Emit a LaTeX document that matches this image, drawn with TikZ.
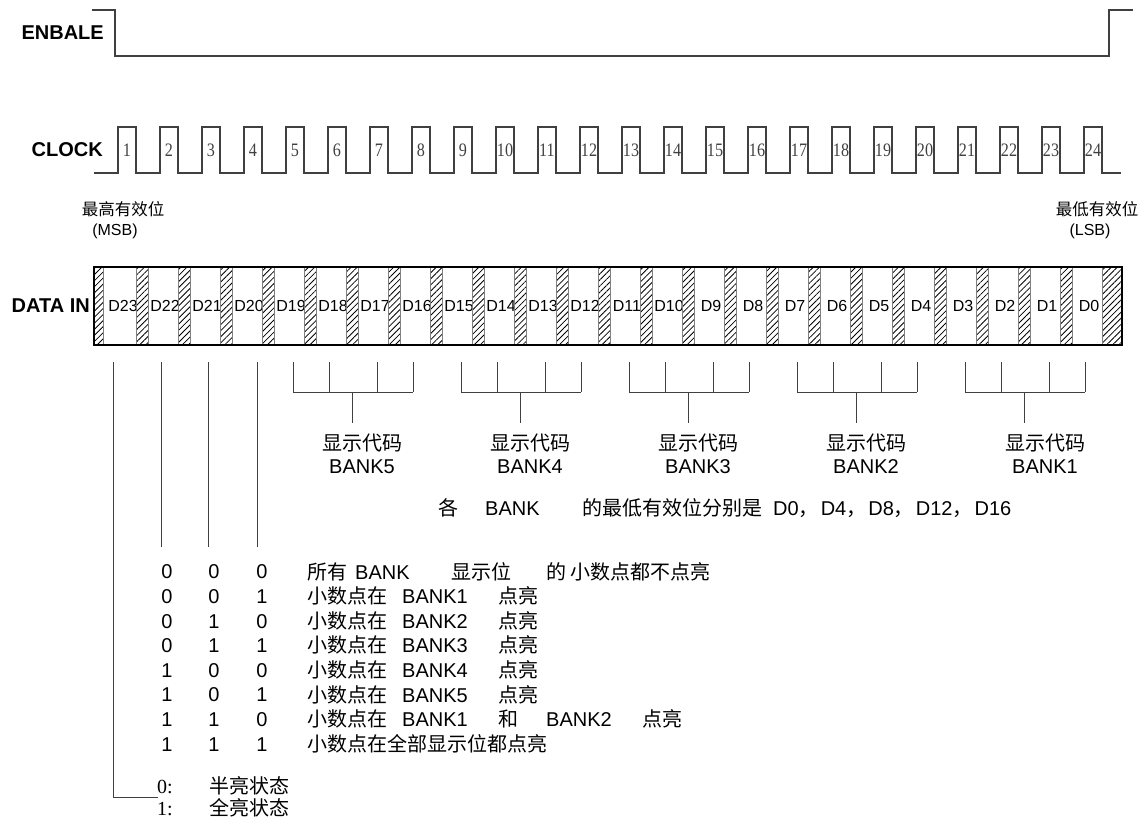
\documentclass[tikz,border=0pt]{standalone}
\usepackage{fontspec}
\setmainfont{Liberation Sans}
\newfontfamily\cjk{Noto Sans CJK SC}
\newfontfamily\songdigits{Liberation Serif}
\usetikzlibrary{patterns.meta}
\definecolor{wire}{RGB}{64,64,64}
\definecolor{stripgray}{RGB}{128,128,128}
\newcommand{\fsz}[1]{\fontsize{#1}{#1}\selectfont}
\newcommand{\cell}[2]{\makebox[#1pt][l]{#2}}
\newcommand{\zh}[1]{{\cjk #1}}

\begin{document}
\begin{tikzpicture}[x=1pt, y=-1pt, inner sep=0pt,
    sig/.style={draw=wire, line width=1.2pt},
    lead/.style={draw=wire, line width=1pt},
    siglabel/.style={font=\fsz{20}\bfseries, anchor=east},
    clknum/.style={font=\songdigits\fsz{19}, text=black!75, xscale=0.85},
    bitname/.style={font=\fsz{16}},
    hatchbar/.style={draw=stripgray, line width=0.8pt, preaction={fill=white},
        pattern={Lines[angle=45, distance=4.3pt, line width=0.8pt]}},
    note/.style={font=\fsz{20}, anchor=base west}]
\useasboundingbox (0,0) rectangle (1142,819);

% signal names
\node[siglabel] (enable) at (104,33) {ENBALE};
\node[siglabel] (clock) at (103,150) {CLOCK};
\node[siglabel] (datain) at (90,306) {DATA IN};

% enable waveform
\draw[sig] (92,10) -- (115,10) -- (115,56) -- (1109,56) -- (1109,10) -- (1133,10);

% clock waveform, 24 pulses
\draw[sig] (94,173) foreach \k in {0,...,23} {
    -- ({118+42*\k},173) -- ({118+42*\k},127) -- ({136+42*\k},127) -- ({136+42*\k},173)
  } -- (1121,173);
\foreach \k in {1,...,24}
  \node[clknum] (pulse\k) at ({85+42*\k},150) {\k};

% msb / lsb
\node[font=\cjk\fsz{16.5}] (msb) at (123,209) {最高有效位};
\node[font=\fsz{16}] (msbtag) at (115,231) {(MSB)};
\node[font=\cjk\fsz{16.5}] (lsb) at (1097,209) {最低有效位};
\node[font=\fsz{16}] (lsbtag) at (1090,231) {(LSB)};

% data frame
\foreach \k in {1,...,24} {
  \pgfmathtruncatemacro\bitno{24-\k}
  \node[bitname] (d\bitno) at ({81+42*\k},306) {D\bitno};
}
\path[hatchbar] (94,267) rectangle (103,345);
\foreach \k in {1,...,23}
  \path[hatchbar] ({94.7+42*\k},267) rectangle ({106.3+42*\k},345);
\path[hatchbar] (1102.7,267) rectangle (1122,345);
\draw[line width=1.2pt] (94,267) rectangle (1122,345);

% decimal point bits
\coordinate (keycorner) at (158,797);
\foreach \x in {161,208,257}
  \draw[lead] (\x,362) -- (\x,547);
\draw[lead] (113,362) |- (keycorner);

% bank groups
\foreach \j/\n/\off in {0/5/69,1/4/69,2/3/69,3/2/69,4/1/80} {
  \pgfmathsetmacro\g{293+168*\j}
  \foreach \dx in {0,36,84,120}
    \draw[lead] ({\g+\dx},362) -- ({\g+\dx},392);
  \draw[lead] (\g,392) -- ({\g+120},392);
  \draw[lead] ({\g+59.5},392) -- ({\g+59.5},423);
  \node[font=\cjk\fsz{20}] (code\n) at ({\g+\off},443) {显示代码};
  \node[font=\fsz{20}] (bank\n) at ({\g+\off},467) {BANK\n};
}
\node[note] (lsbnote) at (438,515) {\cell{47}{\zh{各}}\cell{97}{BANK}\zh{的最低有效位分别是}\hspace{11pt}D0\zh{，}\hspace{2pt}D4\zh{，}\hspace{2pt}D8\zh{，}\hspace{2pt}D12\zh{，}\hspace{2pt}D16};

% decimal point table
\foreach \a/\b/\c [count=\i from 0] in {0/0/0,0/0/1,0/1/0,0/1/1,1/0/0,1/0/1,1/1/0,1/1/1} {
  \node[font=\fsz{20}] (ra\i) at (167,{572+24.6*\i}) {\a};
  \node[font=\fsz{20}] (rb\i) at (214,{572+24.6*\i}) {\b};
  \node[font=\fsz{20}] (rc\i) at (262,{572+24.6*\i}) {\c};
}
\node[note] (desc0) at (307,579) {\cell{48}{\zh{所有}}\cell{96}{BANK}\cell{95}{\zh{显示位}}\cell{24}{\zh{的}}\zh{小数点都不点亮}};
\foreach \n [count=\i] in {1,...,5}
  \node[note] (desc\i) at (307,{579+24.6*\i}) {\cell{95}{\zh{小数点在}}\cell{96}{BANK\n}\zh{点亮}};
\node[note] (desc6) at (307,726.6) {\cell{95}{\zh{小数点在}}\cell{96}{BANK1}\cell{48}{\zh{和}}\cell{96}{BANK2}\zh{点亮}};
\node[note] (desc7) at (307,751.2) {\zh{小数点在全部显示位都点亮}};

% brightness key
\node[note] (halfkey) at (157,793) {\cell{52}{\songdigits 0:}\zh{半亮状态}};
\node[note] (fullkey) at (157,815) {\cell{52}{\songdigits 1:}\zh{全亮状态}};
\end{tikzpicture}
\end{document}
